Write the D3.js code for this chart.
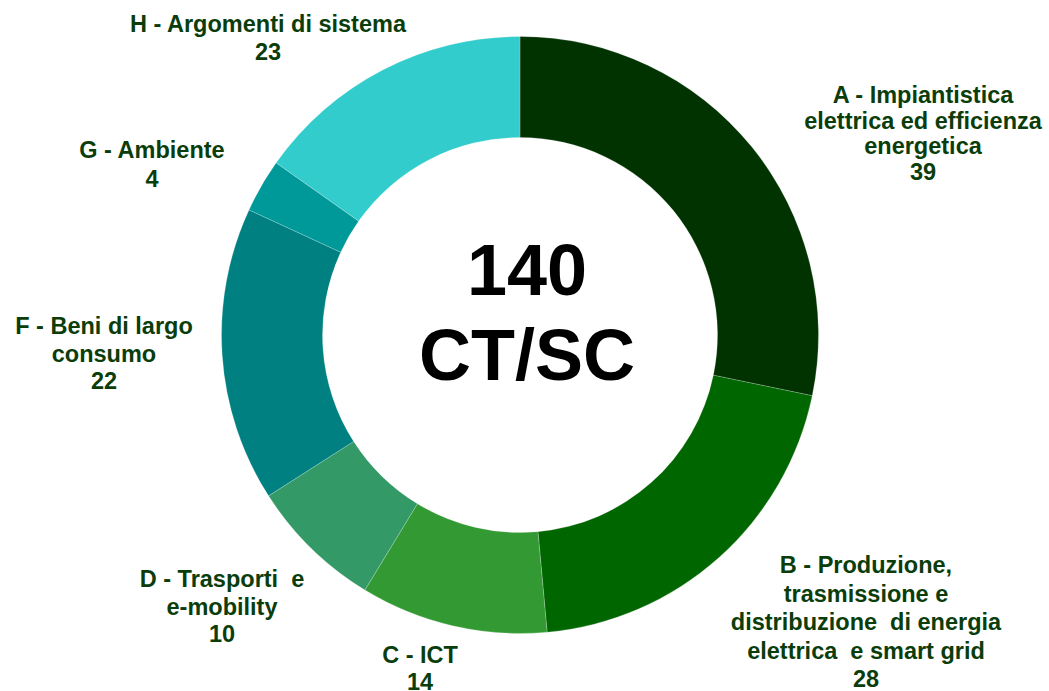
<!DOCTYPE html>
<html>
<head>
<meta charset="utf-8">
<script src="https://cdn.jsdelivr.net/npm/d3@7"></script>
<style>
  html, body { margin: 0; padding: 0; background: #fff; }
  svg { display: block; }
  text { font-family: "Liberation Sans", Arial, sans-serif; font-weight: bold; }
</style>
</head>
<body>
<script>
// ---- data ----
const categories = ["A", "B", "C", "D", "F", "G", "H"];
const labels = [
  ["A - Impiantistica", "elettrica ed efficienza", "energetica"],
  ["B - Produzione,", "trasmissione e", "distribuzione  di energia", "elettrica  e smart grid"],
  ["C - ICT"],
  ["D - Trasporti  e", "e-mobility"],
  ["F - Beni di largo", "consumo"],
  ["G - Ambiente"],
  ["H - Argomenti di sistema"]
];
const values = [39, 28, 14, 10, 22, 4, 21];
// counts printed in the labels
const labelCounts = [39, 28, 14, 10, 22, 4, 23];
const colors = ["#003300", "#006600", "#339933", "#339966", "#008080", "#009999", "#33CCCC"];
const centerLines = ["140", "CT/SC"];

// ---- layout (not data) ----
const W = 1049, H = 691;
const cx = 520, cy = 335, rOuter = 298.5, rInner = 197.5;
const labelLayout = [
  {x: 923, y: 103, lh: 25.7},
  {x: 866, y: 573, lh: 28.5},
  {x: 420, y: 663, lh: 26.5},
  {x: 222, y: 587, lh: 27.5},
  {x: 104, y: 334, lh: 27.5},
  {x: 152, y: 158, lh: 29},
  {x: 268, y: 32, lh: 28}
];

const svg = d3.select("body").append("svg").attr("width", W).attr("height", H);

const pie = d3.pie().sort(null).value(d => d.value);
const arc = d3.arc().innerRadius(rInner).outerRadius(rOuter);
const color = d3.scaleOrdinal().domain(categories).range(colors);

const data = categories.map((c, i) => ({cat: c, value: values[i], count: labelCounts[i], lines: labels[i]}));

const g = svg.append("g").attr("transform", `translate(${cx},${cy})`);
g.selectAll("path").data(pie(data)).join("path")
  .attr("d", arc)
  .attr("fill", d => color(d.data.cat))
  .attr("stroke", "#ffffff")
  .attr("stroke-opacity", 0.35)
  .attr("stroke-width", 0.6);

// labels
const lg = svg.append("g");
data.forEach((d, i) => {
  const L = labelLayout[i];
  const t = lg.append("text")
    .attr("text-anchor", "middle")
    .attr("fill", "#0a3d0a")
    .style("font-size", "23.5px")
    .attr("x", L.x).attr("y", L.y);
  const allLines = d.lines.concat([String(d.count)]);
  allLines.forEach((ln, k) => {
    t.append("tspan").attr("x", L.x).attr("dy", k === 0 ? 0 : L.lh)
      .attr("xml:space", "preserve")
      .style("white-space", "pre")
      .text(ln);
  });
});

// center text
const ct = svg.append("g");
ct.append("text").attr("x", 527).attr("y", 295).attr("text-anchor", "middle")
  .attr("fill", "#000").style("font-size", "72px").text(centerLines[0]);
ct.append("text").attr("x", 527).attr("y", 380).attr("text-anchor", "middle")
  .attr("fill", "#000").style("font-size", "72px").text(centerLines[1]);
</script>
</body>
</html>
